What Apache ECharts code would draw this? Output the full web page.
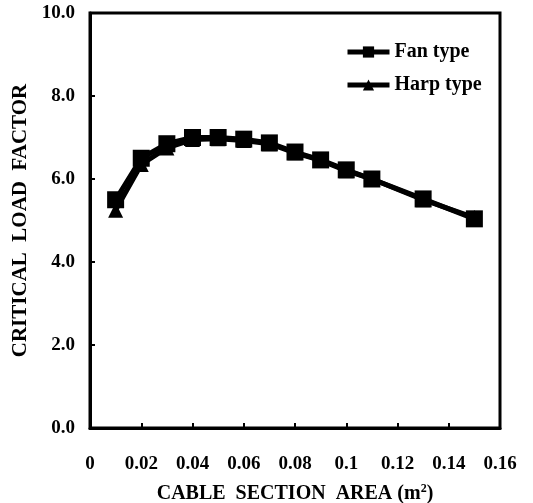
<!DOCTYPE html>
<html>
<head>
<meta charset="utf-8">
<script src="https://cdn.jsdelivr.net/npm/echarts@6/dist/echarts.min.js"></script>
<style>
  html, body { margin: 0; padding: 0; background: #fff; }
  #chart { width: 533px; height: 503px; }
</style>
</head>
<body>
<div id="chart"></div>
<script>
// Cable cross-section area (m^2) and the critical load factor of each layout
const fanArea = [0.01, 0.02, 0.03, 0.04, 0.05, 0.06, 0.07, 0.08, 0.09, 0.10, 0.11, 0.13, 0.15];
const fanLoad = [5.50, 6.50, 6.85, 7.00, 7.00, 6.96, 6.87, 6.65, 6.46, 6.22, 6.00, 5.52, 5.04];
const harpArea = [0.01, 0.02, 0.03, 0.04, 0.05, 0.06, 0.07, 0.08, 0.09, 0.10, 0.11, 0.13, 0.15];
const harpLoad = [5.25, 6.35, 6.75, 6.95, 6.97, 6.93, 6.85, 6.63, 6.45, 6.20, 6.00, 5.50, 5.07];

const xTicks = [0, 0.02, 0.04, 0.06, 0.08, 0.1, 0.12, 0.14, 0.16];
const yTicks = [0, 2, 4, 6, 8, 10];

const font = '"Liberation Serif", "Times New Roman", serif';
const pair = (xs, ys) => xs.map((x, i) => [x, ys[i]]);

const chart = echarts.init(document.getElementById('chart'));
chart.setOption({
  animation: false,
  backgroundColor: '#fff',
  textStyle: { fontFamily: font, color: '#000' },
  grid: {
    left: 90, right: 33, top: 13, bottom: 75,
    outerBoundsMode: 'none', containLabel: false,
    show: true, borderColor: '#000', borderWidth: 3, backgroundColor: 'transparent'
  },
  legend: {
    orient: 'vertical',
    left: 340, top: 37,
    itemWidth: 42, itemHeight: 14, itemGap: 13,
    lineStyle: { width: 5 },
    textStyle: { fontFamily: font, fontWeight: 'bold', fontSize: 20, color: '#000' },
    data: ['Fan type', 'Harp type']
  },
  xAxis: {
    type: 'value',
    min: xTicks[0], max: xTicks[xTicks.length - 1], interval: 0.02,
    name: 'CABLE  SECTION  AREA (m{sup|2})',
    nameLocation: 'middle', nameGap: 55,
    nameTextStyle: {
      fontFamily: font, fontWeight: 'bold', fontSize: 20, color: '#000',
      rich: { sup: { fontFamily: font, fontWeight: 'bold', fontSize: 12, verticalAlign: 'top', padding: [0, 0, 10, 0] } }
    },
    axisLine: { show: true, lineStyle: { color: '#000', width: 3 } },
    axisTick: { show: true, inside: true, length: 5, lineStyle: { color: '#000', width: 2 } },
    axisLabel: {
      margin: 27, fontFamily: font, fontWeight: 'bold', fontSize: 19, color: '#000',
      formatter: v => String(parseFloat(v.toFixed(2)))
    },
    splitLine: { show: false }
  },
  yAxis: {
    type: 'value',
    min: yTicks[0], max: yTicks[yTicks.length - 1], interval: 2,
    name: 'CRITICAL  LOAD  FACTOR',
    nameLocation: 'middle', nameGap: 57, nameRotate: 90,
    nameTextStyle: { fontFamily: font, fontWeight: 'bold', fontSize: 21, color: '#000' },
    axisLine: { show: true, lineStyle: { color: '#000', width: 3 } },
    axisTick: { show: true, inside: true, length: 5, lineStyle: { color: '#000', width: 2 } },
    axisLabel: {
      margin: 15, fontFamily: font, fontWeight: 'bold', fontSize: 19, color: '#000',
      formatter: v => v.toFixed(1)
    },
    splitLine: { show: false }
  },
  series: [
    {
      name: 'Harp type', type: 'line',
      data: pair(harpArea, harpLoad),
      symbol: 'triangle', symbolSize: 15,
      lineStyle: { color: '#000', width: 5 },
      itemStyle: { color: '#000' },
      z: 2
    },
    {
      name: 'Fan type', type: 'line',
      data: pair(fanArea, fanLoad),
      symbol: 'rect', symbolSize: 17,
      lineStyle: { color: '#000', width: 5 },
      itemStyle: { color: '#000' },
      z: 3
    }
  ]
});
</script>
</body>
</html>
